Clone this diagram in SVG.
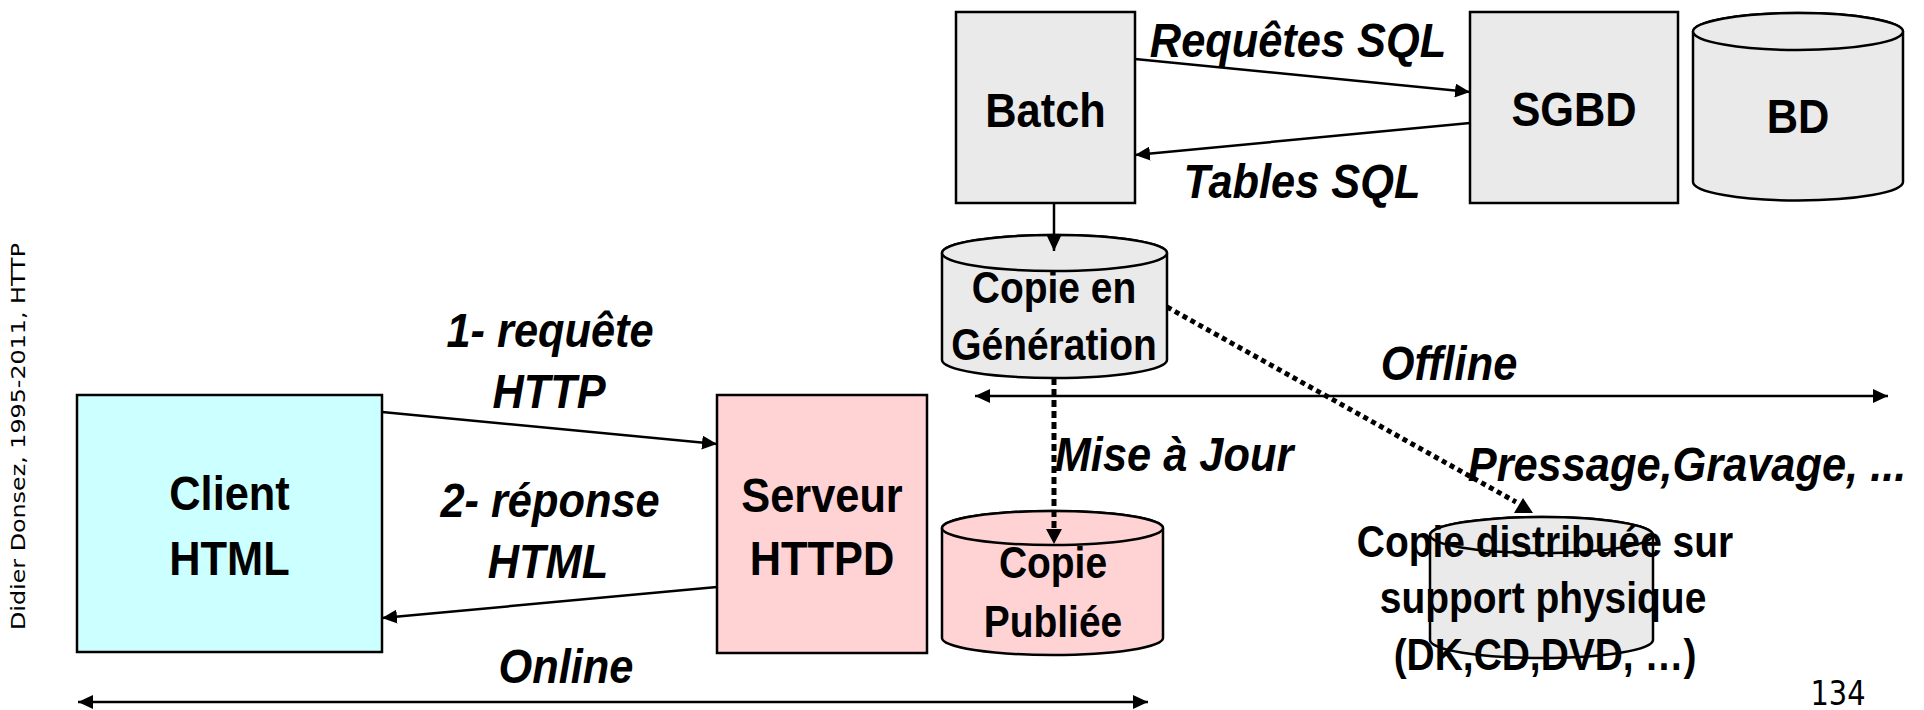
<svg xmlns="http://www.w3.org/2000/svg" width="1924" height="710" viewBox="0 0 1924 710">
<style>
.box{stroke:#000;stroke-width:2.5}
.gray{fill:#EAEAEA}
.pink{fill:#FFD2D4}
.cyan{fill:#CCFFFF}
.t{font-family:"Liberation Sans",Arial,sans-serif;font-weight:bold;text-anchor:middle;fill:#000}
.f48{font-size:49px}
.f44{font-size:44px}
.it{font-style:italic}
.ln{stroke:#000;stroke-width:2.5;fill:none}
.dash{stroke:#000;stroke-width:5;fill:none;stroke-dasharray:7 4}
.dot{stroke:#000;stroke-width:5;fill:none;stroke-dasharray:5 4}
.foot{font-family:"DejaVu Sans",Tahoma,Verdana,sans-serif;fill:#000}
</style>
<defs>
<marker id="ah" markerUnits="userSpaceOnUse" markerWidth="16" markerHeight="14" refX="15" refY="7" orient="auto-start-reverse">
<path d="M0,0 L15,7 L0,14 Z" fill="#000"/>
</marker>
</defs>

<rect width="1924" height="710" fill="#fff"/>

<g id="footer">
<text class="foot" font-size="21" transform="translate(25,436.5) scale(0.885,1) rotate(-90)" x="0" y="0" text-anchor="middle" textLength="387" lengthAdjust="spacingAndGlyphs">Didier Donsez, 1995-2011, HTTP</text>
<text class="foot" font-size="34" transform="matrix(0.85 0 0 1 1838 0)" x="0" y="705" text-anchor="middle">134</text>
</g>

<g id="batch">
<rect class="box gray" x="956" y="12" width="179" height="191"/>
<text class="t f48" transform="matrix(0.885 0 0 1 1045.5 0)" x="0" y="127">Batch</text>
</g>

<g id="sgbd">
<rect class="box gray" x="1470" y="12" width="208" height="191"/>
<text class="t f48" transform="matrix(0.885 0 0 1 1574 0)" x="0" y="126">SGBD</text>
</g>

<g id="bd">
<path class="box gray" d="M1693,31.5 V182 A105,18.5 0 0 0 1903,182 V31.5 A105,18.5 0 0 0 1693,31.5 Z"/>
<ellipse class="box gray" cx="1798" cy="31.5" rx="105" ry="18.5"/>
<text class="t f48" transform="matrix(0.885 0 0 1 1798 0)" x="0" y="133">BD</text>
</g>

<g id="copie-generation">
<path class="box gray" d="M942,253 V360 A112.5,18 0 0 0 1167,360 V253 A112.5,18 0 0 0 942,253 Z"/>
<ellipse class="box gray" cx="1054.5" cy="253" rx="112.5" ry="18"/>
<text class="t f44" transform="matrix(0.885 0 0 1 1054 0)" x="0" y="303">Copie en</text>
<text class="t f44" transform="matrix(0.885 0 0 1 1054 0)" x="0" y="360">Génération</text>
</g>

<g id="copie-publiee">
<path class="box pink" d="M942,528 V638 A110.5,17 0 0 0 1163,638 V528 A110.5,17 0 0 0 942,528 Z"/>
<ellipse class="box pink" cx="1052.5" cy="528" rx="110.5" ry="17"/>
<text class="t f44" transform="matrix(0.885 0 0 1 1053 0)" x="0" y="578">Copie</text>
<text class="t f44" transform="matrix(0.885 0 0 1 1053 0)" x="0" y="637">Publiée</text>
</g>

<g id="copie-distribuee">
<path class="box gray" d="M1430,535 V640 A111.5,18 0 0 0 1653,640 V535 A111.5,18 0 0 0 1430,535 Z"/>
<ellipse class="box gray" cx="1541.5" cy="535" rx="111.5" ry="18"/>
<text class="t f44" transform="matrix(0.885 0 0 1 1545 0)" x="0" y="557">Copie distribuée sur</text>
<text class="t f44" transform="matrix(0.885 0 0 1 1543 0)" x="0" y="613">support physique</text>
<text class="t f44" transform="matrix(0.885 0 0 1 1545 0)" x="0" y="670">(DK,CD,DVD, …)</text>
</g>

<g id="client">
<rect class="box cyan" x="77" y="395" width="305" height="257"/>
<text class="t f48" transform="matrix(0.885 0 0 1 229.5 0)" x="0" y="510">Client</text>
<text class="t f48" transform="matrix(0.885 0 0 1 229.5 0)" x="0" y="575">HTML</text>
</g>

<g id="serveur">
<rect class="box pink" x="717" y="395" width="210" height="258"/>
<text class="t f48" transform="matrix(0.885 0 0 1 822 0)" x="0" y="512">Serveur</text>
<text class="t f48" transform="matrix(0.885 0 0 1 822 0)" x="0" y="575">HTTPD</text>
</g>

<g id="connectors">
<line class="ln" x1="1135" y1="59" x2="1470" y2="92" marker-end="url(#ah)"/>
<line class="ln" x1="1470" y1="123" x2="1135" y2="155" marker-end="url(#ah)"/>
<line class="ln" x1="1054" y1="203" x2="1054" y2="251" marker-end="url(#ah)"/>
<line class="dash" x1="1054" y1="378" x2="1054" y2="532"/>
<path d="M1046,529 L1054,544 L1062,529 Z" fill="#000"/>
<line class="dot" x1="1167" y1="307" x2="1516" y2="502"/>
<path d="M1523,498 L1533,513 L1514,513 Z" fill="#000"/>
<line class="ln" x1="382" y1="412" x2="717" y2="444" marker-end="url(#ah)"/>
<line class="ln" x1="717" y1="587" x2="382" y2="618" marker-end="url(#ah)"/>
<line class="ln" x1="975" y1="396" x2="1888" y2="396" marker-start="url(#ah)" marker-end="url(#ah)"/>
<line class="ln" x1="78" y1="702" x2="1148" y2="702" marker-start="url(#ah)" marker-end="url(#ah)"/>
</g>

<g id="labels">
<text class="t f48 it" transform="matrix(0.885 0 0 1 1298 0)" x="0" y="57">Requêtes SQL</text>
<text class="t f48 it" transform="matrix(0.885 0 0 1 1302 0)" x="0" y="198">Tables SQL</text>
<text class="t f48 it" transform="matrix(0.885 0 0 1 550 0)" x="0" y="347">1- requête</text>
<text class="t f48 it" transform="matrix(0.885 0 0 1 549 0)" x="0" y="408">HTTP</text>
<text class="t f48 it" transform="matrix(0.885 0 0 1 550 0)" x="0" y="517">2- réponse</text>
<text class="t f48 it" transform="matrix(0.885 0 0 1 548 0)" x="0" y="578">HTML</text>
<text class="t f48 it" transform="matrix(0.885 0 0 1 566 0)" x="0" y="683">Online</text>
<text class="t f48 it" transform="matrix(0.885 0 0 1 1449 0)" x="0" y="380">Offline</text>
<text class="t f48 it" transform="matrix(0.885 0 0 1 1174 0)" x="0" y="471">Mise à Jour</text>
<text class="t f48 it" transform="matrix(0.885 0 0 1 1687 0)" x="0" y="481">Pressage,Gravage, ...</text>
</g>
</svg>
